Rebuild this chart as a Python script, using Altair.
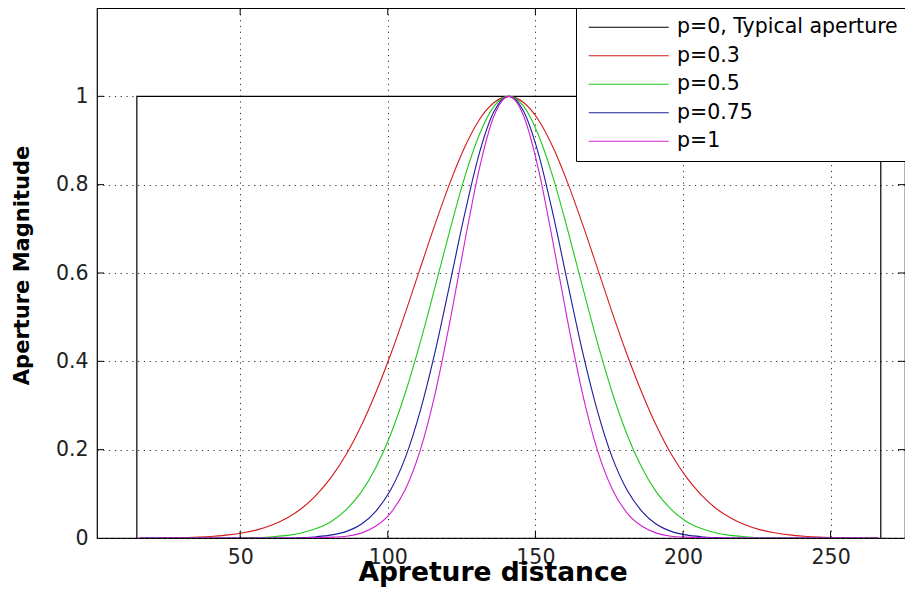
import altair as alt
import pandas as pd

# sample positions along the aperture (distance)
x_pts = [16, 21, 26, 31, 36, 41, 46, 51, 56, 61, 66, 71, 76, 81, 86, 91, 96, 101, 106, 111,
         116, 121, 126, 131, 136, 141, 146, 151, 156, 161, 166, 171, 176, 181, 186, 191, 196,
         201, 206, 211, 216, 221, 226, 231, 236, 241, 246, 251, 256, 261, 266]

# values
p03 = [0.000, 0.000, 0.001, 0.001, 0.002, 0.004, 0.007, 0.012, 0.019, 0.030, 0.046, 0.068, 0.099,
       0.139, 0.190, 0.254, 0.330, 0.416, 0.511, 0.611, 0.710, 0.803, 0.884, 0.947, 0.986, 1.000,
       0.986, 0.947, 0.884, 0.803, 0.710, 0.611, 0.511, 0.416, 0.330, 0.254, 0.190, 0.139, 0.099,
       0.068, 0.046, 0.030, 0.019, 0.012, 0.007, 0.004, 0.002, 0.001, 0.001, 0.000, 0.000]
p05 = [0.000, 0.000, 0.000, 0.000, 0.000, 0.000, 0.000, 0.001, 0.001, 0.003, 0.006, 0.012, 0.022,
       0.038, 0.065, 0.104, 0.160, 0.235, 0.330, 0.443, 0.568, 0.696, 0.816, 0.913, 0.978, 1.000,
       0.978, 0.913, 0.816, 0.696, 0.568, 0.443, 0.330, 0.235, 0.160, 0.104, 0.065, 0.038, 0.022,
       0.012, 0.006, 0.003, 0.001, 0.001, 0.000, 0.000, 0.000, 0.000, 0.000, 0.000, 0.000]
p075 = [0.000, 0.000, 0.000, 0.000, 0.000, 0.000, 0.000, 0.000, 0.000, 0.000, 0.000, 0.001, 0.003,
        0.007, 0.015, 0.031, 0.061, 0.109, 0.183, 0.288, 0.421, 0.575, 0.732, 0.871, 0.966, 1.000,
        0.966, 0.871, 0.732, 0.575, 0.421, 0.288, 0.183, 0.109, 0.061, 0.031, 0.015, 0.007, 0.003,
        0.001, 0.000, 0.000, 0.000, 0.000, 0.000, 0.000, 0.000, 0.000, 0.000, 0.000, 0.000]
p1 = [0.000, 0.000, 0.000, 0.000, 0.000, 0.000, 0.000, 0.000, 0.000, 0.000, 0.000, 0.000, 0.001,
      0.002, 0.004, 0.011, 0.027, 0.057, 0.111, 0.199, 0.326, 0.488, 0.668, 0.836, 0.956, 1.000,
      0.956, 0.836, 0.668, 0.488, 0.326, 0.199, 0.111, 0.057, 0.027, 0.011, 0.004, 0.002, 0.001,
      0.000, 0.000, 0.000, 0.000, 0.000, 0.000, 0.000, 0.000, 0.000, 0.000, 0.000, 0.000]

# typical (rectangular) aperture
rect_x = [15, 15, 267, 267]
rect_y = [0, 1, 1, 0]

labels = ["p=0, Typical aperture", "p=0.3", "p=0.5", "p=0.75", "p=1"]
colors = ["#000000", "#d41a1a", "#1ec81e", "#1c1c9c", "#d020d0"]

x_ticks = [50, 100, 150, 200, 250]
y_ticks = [0, 0.2, 0.4, 0.6, 0.8, 1]

rect_rows = [dict(s=labels[0], x=xx, y=yy, i=i) for i, (xx, yy) in enumerate(zip(rect_x, rect_y))]
curve_rows = []
for lab, ys in zip(labels[1:], [p03, p05, p075, p1]):
    for i, (xx, yy) in enumerate(zip(x_pts, ys)):
        curve_rows.append(dict(s=lab, x=xx, y=yy, i=i))
df_rect = pd.DataFrame(rect_rows)
df_curves = pd.DataFrame(curve_rows)

W, H = 808, 530
xscale = alt.Scale(domain=[1.5, 275.2], nice=False, zero=False)
yscale = alt.Scale(domain=[0, 1.2], nice=False, zero=False)

color = alt.Color(
    "s:N",
    scale=alt.Scale(domain=labels, range=colors),
    legend=alt.Legend(
        title=None, orient="none", legendX=479, legendY=0,
        symbolType="M-8,0H8", symbolSize=100, symbolStrokeWidth=1,
        labelFont="DejaVu Sans", labelFontSize=20.5, labelColor="#000000",
        labelOffset=38, padding=9, symbolOffset=33.5, rowPadding=7.5,
        strokeColor="#000000", fillColor="#ffffff", cornerRadius=0, labelLimit=400,
    ),
)

xaxis = alt.Axis(
    values=x_ticks, format="d", title="Apreture distance",
    titleX=395.5, titleY=42, titleAlign="center", titleBaseline="alphabetic",
    titleFontSize=26.5, labelPadding=9, labelBaseline="top",
)
yaxis = alt.Axis(
    values=y_ticks, format="~g", title="Aperture Magnitude",
    titleX=-68.7, titleY=257, titleAlign="center", titleBaseline="alphabetic",
    titleAngle=270, titleFontSize=21, labelPadding=9,
)

X = alt.X("x:Q", scale=xscale, axis=xaxis)
Y = alt.Y("y:Q", scale=yscale, axis=yaxis)

rect = alt.Chart(df_rect).mark_line(strokeWidth=1.2, clip=True).encode(
    x=X, y=Y, color=color, order=alt.Order("i:Q"),
)
curves = alt.Chart(df_curves).mark_line(strokeWidth=1.1, interpolate="monotone", clip=True).encode(
    x=X, y=Y, color=color, order=alt.Order("i:Q"),
)

xt = pd.DataFrame({"x": x_ticks})
yt = pd.DataFrame({"y": y_ticks[1:]})
bottom_ticks = alt.Chart(xt).mark_rule(color="black", strokeWidth=1).encode(
    x=X, y=alt.value(H), y2=alt.value(H - 7))
top_ticks = alt.Chart(xt).mark_rule(color="black", strokeWidth=1).encode(
    x=X, y=alt.value(0), y2=alt.value(7))
left_ticks = alt.Chart(yt).mark_rule(color="black", strokeWidth=1).encode(
    y=Y, x=alt.value(0), x2=alt.value(7))
right_ticks = alt.Chart(yt).mark_rule(color="black", strokeWidth=1).encode(
    y=Y, x=alt.value(W), x2=alt.value(W - 7))

chart = (
    alt.layer(rect, curves, bottom_ticks, top_ticks, left_ticks, right_ticks)
    .properties(
        width=W, height=H,
        padding={"left": 89, "top": 0, "right": 0, "bottom": 50},
        autosize=alt.AutoSizeParams(type="none"),
        background="#ffffff",
    )
    .configure_view(stroke="#000000", strokeWidth=1.2)
    .configure_axis(
        grid=True, gridColor="#333333", gridDash=[1.2, 4.6], gridWidth=1, gridOpacity=1,
        domain=False, ticks=False, tickSize=0,
        labelFont="DejaVu Sans", labelFontSize=20.5, labelColor="#222222",
        titleFont="DejaVu Sans", titleFontWeight="bold", titleColor="#000000",
    )
)

chart.save("out.html", embed_options={"renderer": "svg", "actions": False})
